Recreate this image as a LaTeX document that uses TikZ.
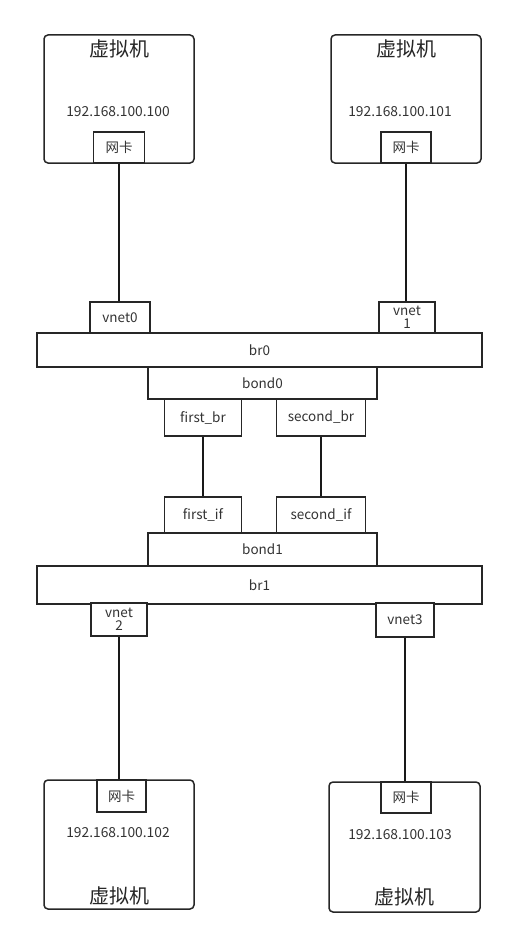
\documentclass[tikz,border=0pt]{standalone}
\usepackage{fontspec}
\setmainfont{Noto Sans CJK SC}
\begin{document}
\begin{tikzpicture}[x=1pt,y=-1pt,
  box/.style={draw=black!85, line width=1.5pt, fill=white, inner sep=0pt, align=center, text=black!80, font=\fontsize{13.5}{14}\selectfont},
  vm/.style={draw=black!85, line width=1.5pt, rounded corners=4pt, inner sep=0pt},
  title/.style={text=black!85, font=\fontsize{20}{21}\selectfont, inner sep=0pt},
  ip/.style={text=black!80, font=\fontsize{13.8}{14}\selectfont, inner sep=0pt},
  wire/.style={draw=black!90, line width=2pt}]
\useasboundingbox (0,0) rectangle (508,950);
% VMs
\node[vm, minimum width=150, minimum height=128] (vm1) at (119,99) {};
\node[vm, minimum width=150, minimum height=128] (vm2) at (406,99) {};
\node[vm, minimum width=150, minimum height=129] (vm3) at (119,844.5) {};
\node[vm, minimum width=151, minimum height=130] (vm4) at (404.5,847) {};
\node[title] (t1) at (119,49) {虚拟机};
\node[title] (t2) at (406,49) {虚拟机};
\node[title] (t3) at (119,896) {虚拟机};
\node[title] (t4) at (404.5,897) {虚拟机};
\node[ip] (ip1) at (118,112) {192.168.100.100};
\node[ip] (ip2) at (400,112) {192.168.100.101};
\node[ip] (ip3) at (118,833) {192.168.100.102};
\node[ip] (ip4) at (400,835) {192.168.100.103};
\node[box, minimum width=51, minimum height=31] (nic1) at (119,147.5) {网卡};
\node[box, minimum width=50, minimum height=31] (nic2) at (406,147.5) {网卡};
\node[box, minimum width=49, minimum height=32] (nic3) at (121.5,796) {网卡};
\node[box, minimum width=50, minimum height=31] (nic4) at (406,797.5) {网卡};
% top bridge
\node[box, minimum width=60, minimum height=31] (vnet0) at (120,317.5) {vnet0};
\node[box, minimum width=56, minimum height=31] (vnet1) at (407,317.5) {vnet\\[-1pt]1};
\node[box, minimum width=445, minimum height=34] (br0) at (259.5,350) {br0};
\node[box, minimum width=229, minimum height=32] (bond0) at (262.5,383) {bond0};
\node[box, minimum width=77, minimum height=37] (fbr) at (203,417.5) {first\_br};
\node[box, minimum width=89, minimum height=37] (sbr) at (321,417.5) {second\_br};
% bottom bridge
\node[box, minimum width=77, minimum height=36] (fif) at (203,515) {first\_if};
\node[box, minimum width=89, minimum height=36] (sif) at (321,515) {second\_if};
\node[box, minimum width=229, minimum height=33] (bond1) at (262.5,549.5) {bond1};
\node[box, minimum width=445, minimum height=38] (br1) at (259.5,585) {br1};
\node[box, minimum width=56, minimum height=33] (vnet2) at (119,619.5) {vnet\\[-1pt]2};
\node[box, minimum width=58, minimum height=34] (vnet3) at (405,620) {vnet3};
% wires
\draw[wire] (nic1.south) -- (nic1.south |- vnet0.north);
\draw[wire, line width=2.4pt] (nic2.south) -- (nic2.south |- vnet1.north);
\draw[wire] (fbr.south) -- (fif.north);
\draw[wire] (sbr.south) -- (sif.north);
\draw[wire] (vnet2.south) -- (vnet2.south |- nic3.north);
\draw[wire] (vnet3.south) -- (vnet3.south |- nic4.north);
\end{tikzpicture}
\end{document}
